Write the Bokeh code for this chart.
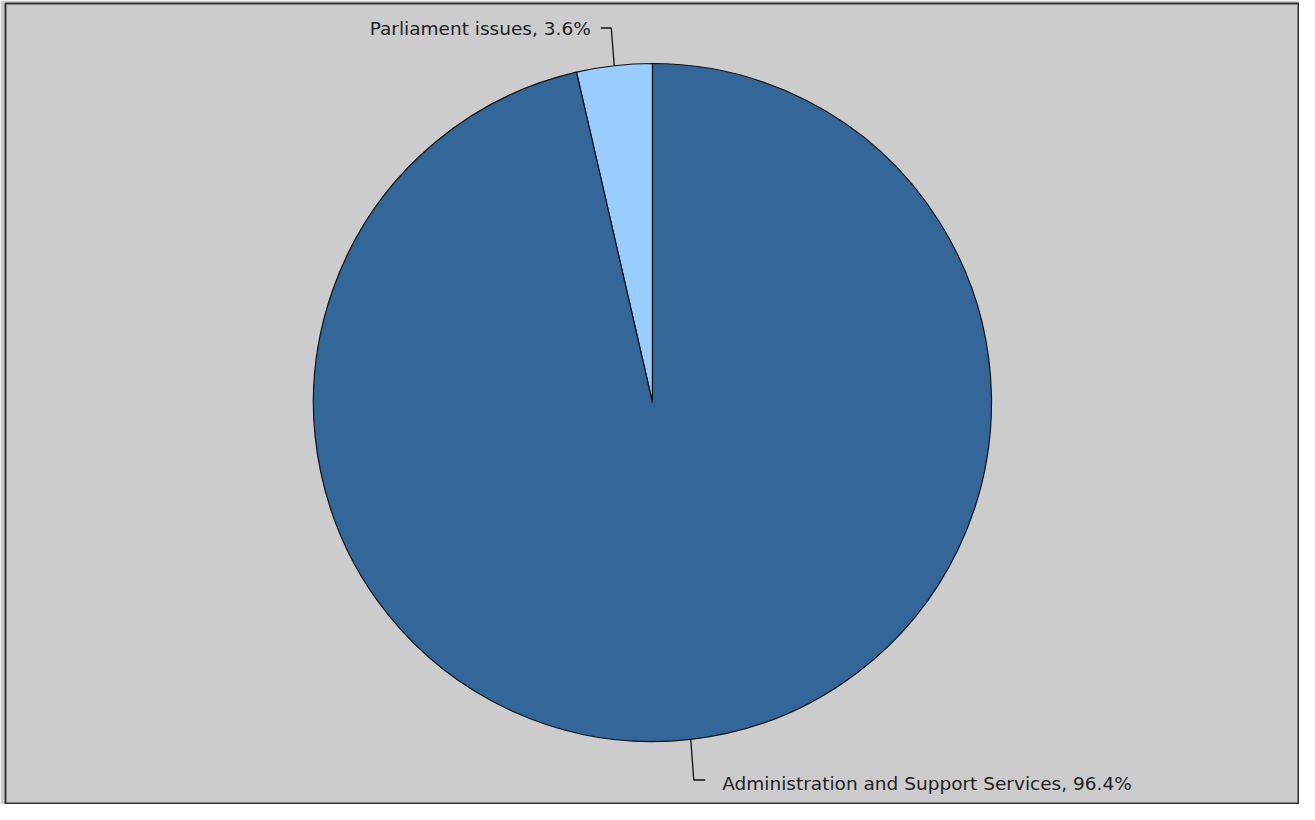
import math
from bokeh.plotting import figure
from bokeh.models import ColumnDataSource
from bokeh.core.properties import value
from bokeh.embed import file_html
from bokeh.resources import INLINE

# ---- data ----
categories = ["Parliament issues", "Administration and Support Services"]
shares = [3.6, 96.4]
colors = ["#99CCFF", "#336699"]

W, H = 1299, 804
ML, MR, MT, MB = 5, 1, 3, 1
p = figure(width=W, height=H, x_range=(ML, W - MR), y_range=(MB, H - MT),
           x_axis_type=None, y_axis_type=None, toolbar_location=None,
           output_backend="svg", min_border_left=ML, min_border_right=MR,
           min_border_top=MT, min_border_bottom=MB)
p.grid.visible = False
p.background_fill_color = "#CCCCCC"
p.border_fill_color = "#CCCCCC"
p.outline_line_color = "#333333"
p.outline_line_width = 2

def Y(sy):
    return H - sy

cx, cy, r = 652, Y(402), 339
total = sum(shares)
starts, ends, mids = [], [], []
a = math.pi / 2
for s in shares:
    span = s / total * 2 * math.pi
    starts.append(a)
    ends.append(a + span)
    mids.append(a + span / 2)
    a += span

src = ColumnDataSource(dict(start=starts, end=ends, color=colors,
                            cat=categories, share=shares))
p.wedge(x=cx, y=cy, radius=r, start_angle="start", end_angle="end",
        direction="anticlock", fill_color="color", line_color="#111111",
        line_width=1.2, source=src)

# labels with leader lines
label_line_y = [Y(27.5), Y(779.5)]
label_text_y = [Y(27.5), Y(782.5)]
for i, (cat, s, m) in enumerate(zip(categories, shares, mids)):
    ex = cx + r * math.cos(m)
    ey = cy + r * math.sin(m)
    ly = label_line_y[i]
    if math.cos(m) < 0:
        elx = ex - 3
        hx = elx - 10.5
        tx = hx - 10
        align = "right"
    else:
        elx = ex + 3
        hx = elx + 11.5
        tx = hx + 17
        align = "left"
    p.line([ex, elx, hx], [ey, ly, ly], line_color="#111111", line_width=1.3)
    p.text(x=[tx], y=[label_text_y[i]],
           text=[f"{cat}, {s}%"], text_font=value("DejaVu Sans"),
           text_font_size="18.5px", text_color="#222222",
           text_align=align, text_baseline="middle")

open("out.html", "w").write(file_html(p, INLINE))
